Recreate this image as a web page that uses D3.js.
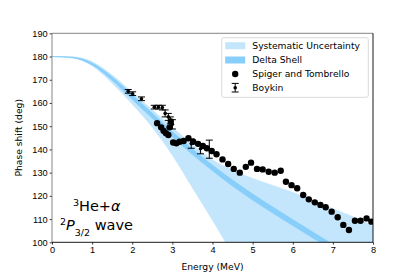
<!DOCTYPE html>
<html>
<head>
<meta charset="utf-8">
<script src="https://d3js.org/d3.v7.min.js"></script>
<style>
  body { margin: 0; background: #fff; }
  svg { display: block; font-family: "DejaVu Sans", sans-serif; }
  .axis text { font-size: 9.2px; fill: #000; }
  .axis path, .axis line { stroke: #000; stroke-width: 0.8; }
</style>
</head>
<body>
<svg width="415" height="277"></svg>
<script>
// energy grid the bands are read on (MeV)
const energyGrid = [0, 0.5, 1, 1.5, 2, 2.5, 3, 3.5, 4, 4.5, 5, 5.5, 6, 6.5, 7, 7.5, 8];
// systematic uncertainty band edges (deg)
const sysUpper = [180, 179.9, 177.8, 172, 164.5, 157, 149.5, 142, 135.5, 131, 127.5, 124.5, 121.5, 118, 114.5, 111, 107];
const sysLower = [180, 179.5, 176, 168.5, 159.5, 149.5, 137.5, 123.5, 109.5, 95, 81, 68, 56, 45, 35, 26, 18];
// delta shell band edges (deg)
const deltaUpper = [180, 179.7, 177.2, 171.2, 163.5, 155.6, 147.6, 140.2, 133.2, 126.8, 120.8, 115.2, 109.8, 104.4, 99.2, 94.8, 90.8];
const deltaLower = [180, 179.5, 176.4, 169.8, 161.5, 153.4, 145.4, 137.8, 130.8, 124.2, 118.2, 112.6, 107.2, 101.9, 96.8, 92.6, 88.6];

// Spiger and Tombrello
const stEnergy = [2.62, 2.72, 2.78, 2.84, 2.9, 2.93, 2.96, 3.02, 3.1, 3.18, 3.28, 3.4, 3.52, 3.64, 3.76, 3.86, 3.98, 4.1, 4.25, 4.39, 4.53, 4.68, 4.83, 4.96, 5.11, 5.25, 5.4, 5.55, 5.7, 5.83, 5.97, 6.11, 6.26, 6.4, 6.55, 6.69, 6.82, 6.97, 7.12, 7.26, 7.4, 7.55, 7.69, 7.84, 7.96];
const stPhase = [151.3, 149.5, 148.0, 147.0, 146.2, 149.5, 152.0, 143.0, 142.6, 143.3, 143.6, 144.8, 143.3, 142.4, 141.5, 140.5, 139.3, 137.9, 135.7, 133.7, 131.6, 130.0, 132.5, 134.3, 131.6, 131.4, 130.4, 130.0, 130.8, 126.1, 124.6, 123.3, 120.4, 118.5, 117.2, 116.1, 115.1, 113.2, 110.8, 107.5, 105.3, 109.3, 109.3, 110.3, 108.9];

// Boykin, with errors
const bkEnergy = [1.9, 2.01, 2.23, 2.55, 2.65, 2.75, 2.82, 2.9, 2.95, 3.0, 3.47, 3.7, 3.92];
const bkPhase = [165.0, 164.0, 161.8, 158.2, 158.2, 158.0, 155.5, 154.0, 152.5, 150.8, 142.5, 140.3, 140.1];
const bkError = [0.8, 0.8, 0.8, 0.8, 0.8, 1.0, 1.5, 1.5, 1.5, 2.0, 2.0, 2.2, 3.9];

const xTicks = [0, 1, 2, 3, 4, 5, 6, 7, 8];
const yTicks = [100, 110, 120, 130, 140, 150, 160, 170, 180, 190];
const legendLabels = ["Systematic Uncertainty", "Delta Shell", "Spiger and Tombrello", "Boykin"];

let svg = d3.select("svg"),
  margin = { top: 33.3, right: 42, bottom: 34.7, left: 52 },
  width = +svg.attr("width") - margin.left - margin.right,
  height = +svg.attr("height") - margin.top - margin.bottom;

let x = d3.scaleLinear().domain([0, 8]).range([0, width]),
  y = d3.scaleLinear().domain([100, 190]).range([height, 0]);

let sysColor = "#c4e6fc",
  deltaColor = "#87cefa";

let g = svg.append("g")
  .attr("transform", "translate(" + margin.left + "," + margin.top + ")");

g.append("clipPath").attr("id", "plotClip")
  .append("rect").attr("width", width).attr("height", height);

let plot = g.append("g").attr("clip-path", "url(#plotClip)");

// bands
let sysArea = d3.area()
  .x(function (d, i) { return x(energyGrid[i]); })
  .y0(function (d, i) { return y(sysLower[i]); })
  .y1(function (d, i) { return y(sysUpper[i]); })
  .curve(d3.curveMonotoneX);

let deltaArea = d3.area()
  .x(function (d, i) { return x(energyGrid[i]); })
  .y0(function (d, i) { return y(deltaLower[i]); })
  .y1(function (d, i) { return y(deltaUpper[i]); })
  .curve(d3.curveMonotoneX);

plot.append("path")
  .attr("d", sysArea(energyGrid))
  .attr("fill", sysColor)
  .attr("stroke", sysColor)
  .attr("stroke-width", 0.7);

plot.append("path")
  .attr("d", deltaArea(energyGrid))
  .attr("fill", deltaColor)
  .attr("stroke", deltaColor)
  .attr("stroke-width", 0.7);

// Spiger and Tombrello dots
plot.selectAll(".st")
  .data(stEnergy)
  .enter()
  .append("circle")
  .attr("class", "st")
  .attr("cx", function (d) { return x(d); })
  .attr("cy", function (d, i) { return y(stPhase[i]); })
  .attr("r", 3.2)
  .attr("fill", "#000");

// Boykin error bars
let bk = plot.selectAll(".bk")
  .data(bkEnergy)
  .enter()
  .append("g")
  .attr("class", "bk");

bk.append("line")
  .attr("x1", function (d) { return x(d); })
  .attr("x2", function (d) { return x(d); })
  .attr("y1", function (d, i) { return y(bkPhase[i] - bkError[i]); })
  .attr("y2", function (d, i) { return y(bkPhase[i] + bkError[i]); })
  .attr("stroke", "#000").attr("stroke-width", 1);

[-1, 1].forEach(function (s) {
  bk.append("line")
    .attr("x1", function (d) { return x(d) - 3.5; })
    .attr("x2", function (d) { return x(d) + 3.5; })
    .attr("y1", function (d, i) { return y(bkPhase[i] + s * bkError[i]); })
    .attr("y2", function (d, i) { return y(bkPhase[i] + s * bkError[i]); })
    .attr("stroke", "#000").attr("stroke-width", 1);
});

bk.append("circle")
  .attr("cx", function (d) { return x(d); })
  .attr("cy", function (d, i) { return y(bkPhase[i]); })
  .attr("r", 1.8)
  .attr("fill", "#000");

// axes
g.append("g")
  .attr("class", "axis axis--x")
  .attr("transform", "translate(0," + height + ")")
  .call(d3.axisBottom(x).tickValues(xTicks).tickSize(2.3).tickPadding(2).tickFormat(d3.format("d")))
  .call(function (a) { a.select(".domain").remove(); });

g.append("g")
  .attr("class", "axis axis--y")
  .call(d3.axisLeft(y).tickValues(yTicks).tickSize(2.3).tickPadding(2).tickFormat(d3.format("d")))
  .call(function (a) { a.select(".domain").remove(); });

// frame
g.append("line").attr("x1", 0).attr("x2", 0).attr("y1", 0).attr("y2", height).attr("stroke", "#777").attr("stroke-width", 0.9);
g.append("line").attr("x1", 0).attr("x2", width).attr("y1", 0).attr("y2", 0).attr("stroke", "#777").attr("stroke-width", 0.9);
g.append("line").attr("x1", width).attr("x2", width).attr("y1", 0).attr("y2", height).attr("stroke", "#000").attr("stroke-width", 0.9);
g.append("line").attr("x1", 0).attr("x2", width).attr("y1", height).attr("y2", height).attr("stroke", "#000").attr("stroke-width", 0.9);

// axis labels
g.append("text")
  .attr("x", width / 2).attr("y", height + 27.5)
  .attr("text-anchor", "middle")
  .style("font-size", "9.2px")
  .text("Energy (MeV)");

g.append("text")
  .attr("transform", "translate(-30," + height / 2 + ") rotate(-90)")
  .attr("text-anchor", "middle")
  .style("font-size", "9.2px")
  .text("Phase shift (deg)");

// annotation
let note = g.append("text")
  .attr("x", 21).attr("y", 177.7)
  .style("font-size", "14.5px");
note.append("tspan").attr("baseline-shift", "super").style("font-size", "9.5px").text("3");
note.append("tspan").text("He+");
note.append("tspan").style("font-style", "italic").text("α");

let note2 = g.append("text")
  .attr("x", 8).attr("y", 196.7)
  .style("font-size", "14.5px");
note2.append("tspan").attr("baseline-shift", "super").style("font-size", "9.5px").text("2");
note2.append("tspan").style("font-style", "italic").text("P");
note2.append("tspan").attr("baseline-shift", "sub").style("font-size", "9.5px").text("3/2");
note2.append("tspan").attr("dy", 0).text(" wave");

// legend
let legend = svg.append("g").attr("transform", "translate(221.7,37.7)");
legend.append("rect")
  .attr("width", 146.6).attr("height", 59.6)
  .attr("rx", 2).attr("fill", "#fff").attr("fill-opacity", 0.8)
  .attr("stroke", "#d0d0d0").attr("stroke-width", 0.8);

let rowY = [8, 22.3, 36.3, 50];
legend.append("rect").attr("x", 3.5).attr("y", rowY[0] - 3.5).attr("width", 20).attr("height", 7).attr("fill", sysColor);
legend.append("rect").attr("x", 3.5).attr("y", rowY[1] - 3.5).attr("width", 20).attr("height", 7).attr("fill", deltaColor);
legend.append("circle").attr("cx", 13.5).attr("cy", rowY[2]).attr("r", 3.2).attr("fill", "#000");
legend.append("line").attr("x1", 13.5).attr("x2", 13.5).attr("y1", rowY[3] - 4.3).attr("y2", rowY[3] + 4.3).attr("stroke", "#000");
legend.append("line").attr("x1", 10).attr("x2", 17).attr("y1", rowY[3] - 4.3).attr("y2", rowY[3] - 4.3).attr("stroke", "#000");
legend.append("line").attr("x1", 10).attr("x2", 17).attr("y1", rowY[3] + 4.3).attr("y2", rowY[3] + 4.3).attr("stroke", "#000");
legend.append("circle").attr("cx", 13.5).attr("cy", rowY[3]).attr("r", 1.8).attr("fill", "#000");

legend.selectAll(".lab")
  .data(legendLabels)
  .enter()
  .append("text")
  .attr("class", "lab")
  .attr("x", 30.6)
  .attr("y", function (d, i) { return rowY[i] + 3.3; })
  .style("font-size", "9.2px")
  .text(function (d) { return d; });
</script>
</body>
</html>
